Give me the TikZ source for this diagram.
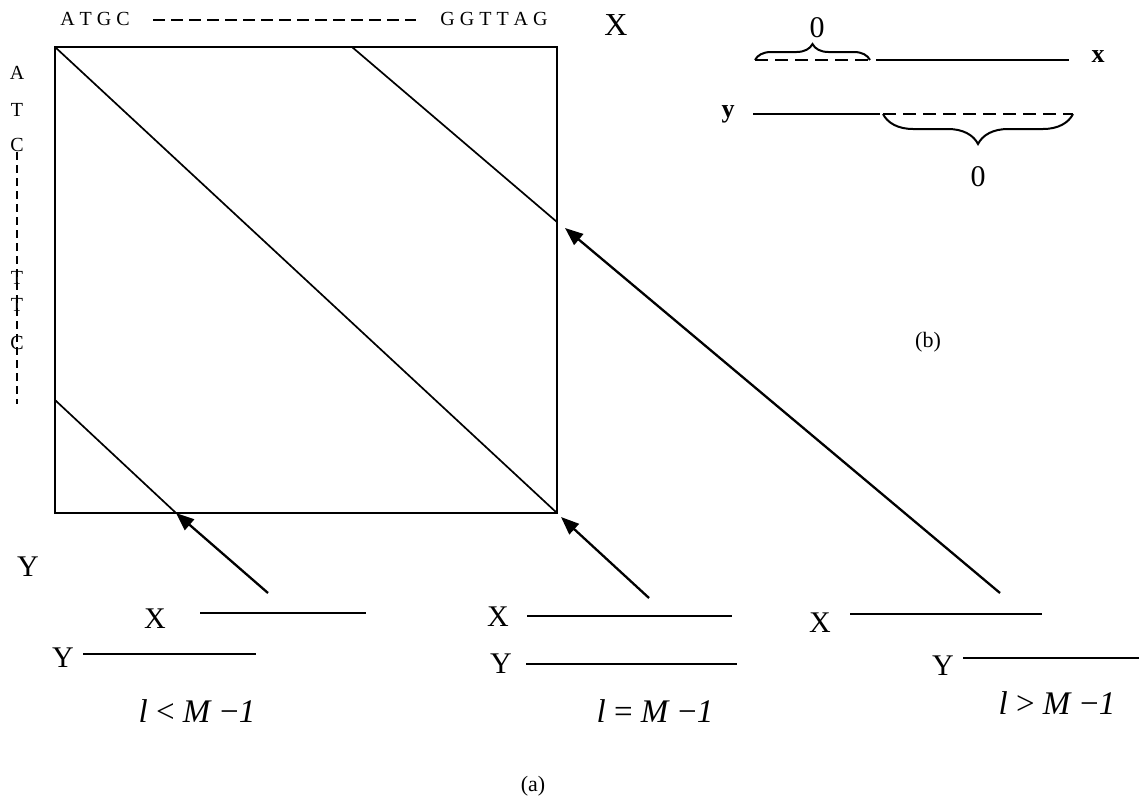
\documentclass[tikz,border=0pt]{standalone}
\usepackage{fontspec}
\setmainfont{Liberation Serif}
\usetikzlibrary{arrows.meta,decorations.pathreplacing}
\begin{document}
\begin{tikzpicture}[x=1pt,y=-1pt,
  sq/.style={line width=1.7pt},
  seq/.style={font=\fontsize{20}{24}\selectfont, inner sep=0pt},
  big/.style={font=\fontsize{30}{36}\selectfont, inner sep=0pt},
  cond/.style={font=\fontsize{33}{40}\selectfont, inner sep=0pt},
  captxt/.style={font=\fontsize{22}{26}\selectfont, inner sep=0pt},
  boldtxt/.style={font=\fontsize{26}{30}\selectfont\bfseries, inner sep=0pt},
  seg/.style={line width=2pt},
  dseg/.style={line width=2pt, dash pattern=on 13pt off 7pt},
  arr/.style={line width=2.3pt, -{Triangle[length=18pt,width=14pt]}},
  brc/.style={line width=2pt, decorate}
  ]
\useasboundingbox (0,0) rectangle (1139,801);

% ---- dot plot square
\coordinate (TL) at (55,47);
\coordinate (TR) at (557,47);
\coordinate (BR) at (557,513);
\coordinate (BL) at (55,513);
\draw[sq] (TL) rectangle (BR);
\coordinate (d2a) at (352,47);
\coordinate (d2b) at (557,222);
\coordinate (d3a) at (55,400);
\coordinate (d3b) at (176,513);
\draw[sq] (TL) -- (BR);
\draw[sq] (d2a) -- (d2b);
\draw[sq] (d3a) -- (d3b);

% ---- top sequence
\node[seq] (s1) at (95,19) {A T G C};
\node[seq] (s2) at (494,19) {G G T T A G};
\coordinate (hd1) at (153,20);
\coordinate (hd2) at (416,20);
\draw[line width=1.8pt, dash pattern=on 12pt off 6pt] (hd1) -- (hd2);
\node[font=\fontsize{32}{36}\selectfont, inner sep=0pt] (Xtop) at (616,25) {X};

% ---- left sequence
\node[seq] (v1) at (17,73) {A};
\node[seq] (v2) at (17,110) {T};
\node[seq] (v3) at (17,145) {C};
\node[seq] (v4) at (17,278) {T};
\node[seq] (v5) at (17,305) {T};
\node[seq] (v6) at (17,343) {C};
\coordinate (vd1) at (17,152);
\coordinate (vd2) at (17,404);
\draw[line width=1.7pt, dash pattern=on 8pt off 5pt] (vd1) -- (vd2);
\node[big] (Yleft) at (28,567) {Y};

% ---- case l < M-1
\node[big] (X1) at (155,619) {X};
\coordinate (x1a) at (200,613);
\coordinate (x1b) at (366,613);
\draw[seg] (x1a) -- (x1b);
\node[big] (Y1) at (63,658) {Y};
\coordinate (y1a) at (83,654);
\coordinate (y1b) at (256,654);
\draw[seg] (y1a) -- (y1b);
\node[cond] (c1) at (197,711) {\textit{l} < \textit{M} −\textit{1}};
\coordinate (a1s) at (268,593);
\draw[arr] (a1s) -- (d3b);

% ---- case l = M-1
\node[big] (X2) at (498,617) {X};
\coordinate (x2a) at (527,616);
\coordinate (x2b) at (732,616);
\draw[seg] (x2a) -- (x2b);
\node[big] (Y2) at (501,664) {Y};
\coordinate (y2a) at (526,664);
\coordinate (y2b) at (737,664);
\draw[seg] (y2a) -- (y2b);
\node[cond] (c2) at (655,711) {\textit{l} = \textit{M} −\textit{1}};
\coordinate (a2s) at (649,598);
\coordinate (a2e) at (561,517);
\draw[arr] (a2s) -- (a2e);

% ---- case l > M-1
\node[big] (X3) at (820,623) {X};
\coordinate (x3a) at (850,614);
\coordinate (x3b) at (1042,614);
\draw[seg] (x3a) -- (x3b);
\node[big] (Y3) at (943,666) {Y};
\coordinate (y3a) at (963,658);
\coordinate (y3b) at (1139,658);
\draw[seg] (y3a) -- (y3b);
\node[cond] (c3) at (1057,703) {\textit{l} > \textit{M} −\textit{1}};
\coordinate (a3s) at (1000,593);
\coordinate (a3e) at (565,228);
\draw[arr] (a3s) -- (a3e);

\node[captxt] (capa) at (533,786) {(a)};

% ---- (b)
\coordinate (bx1) at (755,60);
\coordinate (bx2) at (870,60);
\coordinate (bx3) at (876,60);
\coordinate (bx4) at (1069,60);
\draw[dseg] (bx1) -- (bx2);
\draw[seg] (bx3) -- (bx4);
\draw[brc, decoration={brace, amplitude=16pt}] (bx1) -- (bx2);
\node[big] (zero1) at (817,28) {0};
\node[boldtxt] (lx) at (1098,57) {x};

\coordinate (by1) at (753,114);
\coordinate (by2) at (880,114);
\coordinate (by3) at (883,114);
\coordinate (by4) at (1073,114);
\draw[seg] (by1) -- (by2);
\draw[dseg] (by3) -- (by4);
\draw[brc, decoration={brace, amplitude=30pt, mirror}] (by3) -- (by4);
\node[big] (zero2) at (978,177) {0};
\node[boldtxt] (ly) at (728,114) {y};

\node[captxt] (capb) at (928,342) {(b)};
\end{tikzpicture}
\end{document}
